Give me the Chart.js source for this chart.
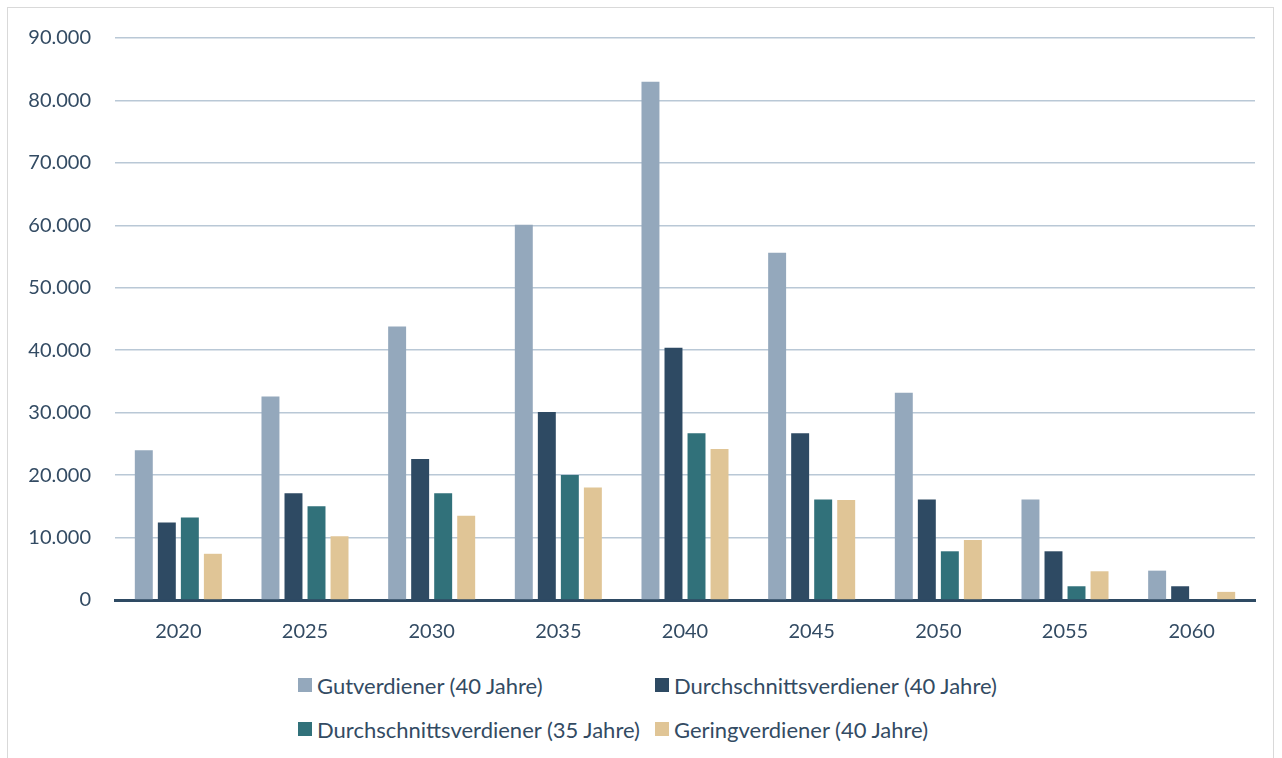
<!DOCTYPE html>
<html>
<head>
<meta charset="utf-8">
<script src="https://cdn.jsdelivr.net/npm/chart.js@4.4.1/dist/chart.umd.min.js"></script>
<style>
    html, body { margin: 0; padding: 0; background: #fff; }
    body { width: 1282px; height: 758px; position: relative; overflow: hidden; font-family: Lato, sans-serif; }
    .frame { position: absolute; left: 7px; top: 7px; width: 1267px; height: 760px; border: 1px solid #d9d9d9; box-sizing: border-box; }
    .chart-box { position: absolute; left: 0; top: 0; width: 1282px; height: 660px; }
    .legend { position: absolute; left: 298px; top: 672px; display: grid; grid-template-columns: 357px auto; row-gap: 18px; }
    .legend .item { display: flex; align-items: center; font-size: 22px; color: #334b63; height: 26px; white-space: nowrap; }
    .legend .box { width: 14px; height: 14px; margin-right: 5px; }
</style>
</head>
<body>
<div class="frame"></div>
<div class="chart-box"><canvas id="chart-rente"></canvas></div>
<div class="legend" id="legend"></div>
<script>
var years = ['2020', '2025', '2030', '2035', '2040', '2045', '2050', '2055', '2060'];
var seriesNames = ['Gutverdiener (40 Jahre)', 'Durchschnittsverdiener (40 Jahre)', 'Durchschnittsverdiener (35 Jahre)', 'Geringverdiener (40 Jahre)'];
var gutverdiener40 = [24000, 32600, 43800, 60100, 83000, 55600, 33200, 16100, 4700];
var durchschnitt40 = [12400, 17100, 22600, 30100, 40400, 26700, 16100, 7800, 2200];
var durchschnitt35 = [13200, 15000, 17100, 20000, 26700, 16100, 7800, 2200, 0];
var gering40 = [7400, 10200, 13500, 18000, 24200, 16000, 9600, 4600, 1300];
var yMax = 90000;
var yStep = 10000;

var colors = ['#94a8bc', '#2e4a63', '#31717a', '#e0c596'];
var textColor = '#334b63';

function formatDe(v) {
    return String(v).replace(/\B(?=(\d{3})+(?!\d))/g, '.');
}

var allSeries = [gutverdiener40, durchschnitt40, durchschnitt35, gering40];
var datasets = allSeries.map(function (values, i) {
    return {
        label: seriesNames[i],
        data: values,
        backgroundColor: colors[i],
        borderWidth: 0,
        barPercentage: 0.78,
        categoryPercentage: 0.727
    };
});

var ctx = document.getElementById('chart-rente').getContext('2d');
new Chart(ctx, {
    type: 'bar',
    data: { labels: years, datasets: datasets },
    options: {
        responsive: true,
        maintainAspectRatio: false,
        animation: false,
        layout: { padding: { left: 0, right: 27, top: 38, bottom: 0 } },
        scales: {
            x: {
                grid: { display: false, drawTicks: false },
                border: { display: true, color: '#2e4a63', width: 3 },
                ticks: { color: textColor, font: { family: 'Lato', size: 20 }, padding: 20 },
                afterFit: function (scale) { scale.height = 60; }
            },
            y: {
                min: 0,
                max: yMax,
                ticks: {
                    stepSize: yStep,
                    color: textColor,
                    font: { family: 'Lato', size: 20 },
                    padding: 24,
                    callback: function (v) { return formatDe(v); }
                },
                grid: { color: '#b9c8d6', lineWidth: 1.5, drawTicks: false },
                border: { display: false },
                afterFit: function (scale) { scale.width = 115; }
            }
        },
        plugins: {
            legend: { display: false },
            tooltip: { enabled: false }
        }
    }
});

// Legende als HTML, zwei Spalten wie im Original
var legend = document.getElementById('legend');
datasets.forEach(function (ds) {
    var item = document.createElement('div');
    item.className = 'item';
    var box = document.createElement('span');
    box.className = 'box';
    box.style.background = ds.backgroundColor;
    var txt = document.createElement('span');
    txt.textContent = ds.label;
    item.appendChild(box);
    item.appendChild(txt);
    legend.appendChild(item);
});
</script>
</body>
</html>
